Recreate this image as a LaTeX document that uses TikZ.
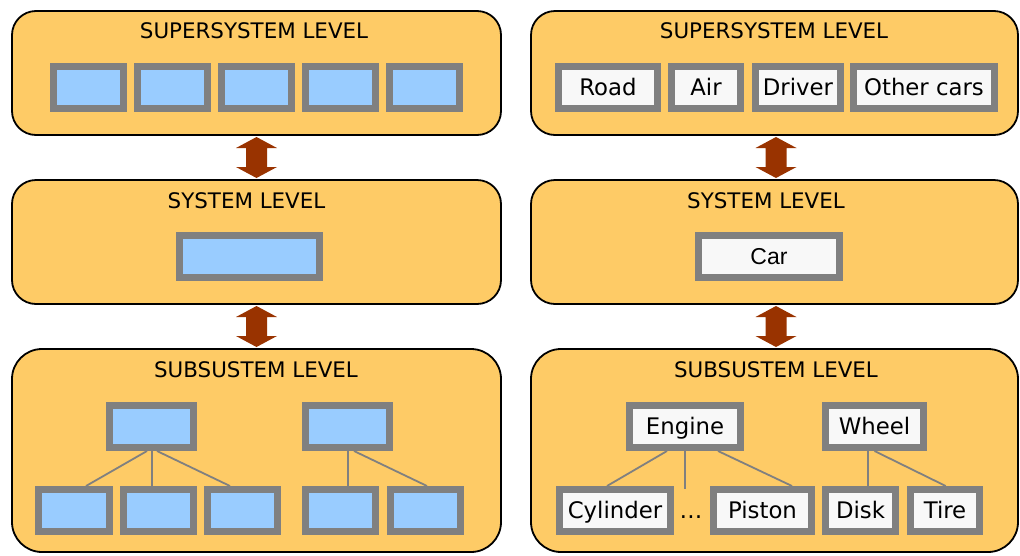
\documentclass[tikz,border=0pt]{standalone}
\usepackage{fontspec}
\setmainfont{DejaVu Sans}
\newfontfamily\arialf{Liberation Sans}
\usetikzlibrary{calc}
\definecolor{panelc}{RGB}{254,203,102}
\definecolor{boxgray}{RGB}{128,128,128}
\definecolor{boxblue}{RGB}{153,204,255}
\definecolor{boxwhite}{RGB}{248,248,248}
\definecolor{arrowc}{RGB}{153,51,0}
\tikzset{
  panel/.style={draw=black, line width=1.8pt, fill=panelc, rounded corners=24pt, inner sep=0pt},
  paneltitle/.style={inner sep=0pt, font=\fontsize{21.4}{24}\selectfont, text height=15.6pt, text depth=0pt},
  blk/.style={draw=boxgray, line width=7pt, inner sep=0pt, minimum height=42pt,
              font=\fontsize{22.8}{26}\selectfont, text height=16.6pt, text depth=0pt},
  bluebox/.style={blk, fill=boxblue},
  whitebox/.style={blk, fill=boxwhite},
  link/.style={draw=boxgray, line width=1.8pt},
  dblarrow/.style={fill=arrowc}
}
\newcommand{\vdarrow}[1]{%
  \fill[dblarrow] ($(#1)+(0,-20.5)$) -- ++(20.5,11) -- ++(-10,0) -- ++(0,19) -- ++(10,0)
    -- ++(-20.5,11) -- ++(-20.5,-11) -- ++(10,0) -- ++(0,-19) -- ++(-10,0) -- cycle;}
\begin{document}
\begin{tikzpicture}[x=1pt, y=-1pt]
\useasboundingbox (0,0) rectangle (1020,555);
% panels
\node[panel, minimum width=489pt, minimum height=124pt] (LA) at (256.5,73) {};
\node[panel, minimum width=489pt, minimum height=124pt] (LB) at (256.5,242) {};
\node[panel, rounded corners=30pt, minimum width=489pt, minimum height=203pt] (LC) at (256.5,450.5) {};
\node[panel, minimum width=487pt, minimum height=124pt] (RA) at (774.5,73) {};
\node[panel, minimum width=487pt, minimum height=124pt] (RB) at (774.5,242) {};
\node[panel, rounded corners=30pt, minimum width=487pt, minimum height=203pt] (RC) at (774.5,450.5) {};
% titles
\node[paneltitle] (tLA) at (254,31) {SUPERSYSTEM LEVEL};
\node[paneltitle] (tLB) at (246.5,200.5) {SYSTEM LEVEL};
\node[paneltitle] (tLC) at (256,370) {SUBSUSTEM LEVEL};
\node[paneltitle] (tRA) at (774,31) {SUPERSYSTEM LEVEL};
\node[paneltitle] (tRB) at (766,200.5) {SYSTEM LEVEL};
\node[paneltitle] (tRC) at (776,370) {SUBSUSTEM LEVEL};
% arrows between levels
\coordinate (aL1) at ($(LA.south)!0.5!(LB.north)$);
\coordinate (aL2) at ($(LB.south)!0.5!(LC.north)$);
\coordinate (aR1) at ($(RA.south)!0.5!(RB.north)+(1.5,0)$);
\coordinate (aR2) at ($(RB.south)!0.5!(RC.north)+(1.5,0)$);
\vdarrow{aL1}
\vdarrow{aL2}
\vdarrow{aR1}
\vdarrow{aR2}
% left supersystem boxes
\node[bluebox, minimum width=70pt] (s1) at (88.5,87.5) {};
\node[bluebox, minimum width=70pt] (s2) at (172.5,87.5) {};
\node[bluebox, minimum width=70pt] (s3) at (256.5,87.5) {};
\node[bluebox, minimum width=70pt] (s4) at (340.5,87.5) {};
\node[bluebox, minimum width=70pt] (s5) at (424.5,87.5) {};
% right supersystem boxes
\node[whitebox, minimum width=99pt] (road) at (608,87) {Road};
\node[whitebox, minimum width=69pt] (air) at (706,87) {Air};
\node[whitebox, minimum width=85pt] (driver) at (798,87) {Driver};
\node[whitebox, minimum width=141pt] (other) at (924,87) {Other cars};
% system boxes
\node[bluebox, minimum width=140pt] (sys) at (249.5,256.5) {};
\node[whitebox, minimum width=141pt, font=\arialf\fontsize{23}{26}\selectfont, text height=16.5pt] (car) at (769,256.5) {Car};
% left subsystem boxes
\node[bluebox, minimum width=84pt] (p1) at (151.5,426.5) {};
\node[bluebox, minimum width=84pt] (p2) at (347.5,426.5) {};
\node[bluebox, minimum width=71pt] (c1) at (74,510.5) {};
\node[bluebox, minimum width=70pt] (c2) at (158.5,510.5) {};
\node[bluebox, minimum width=70pt] (c3) at (242.5,510.5) {};
\node[bluebox, minimum width=70pt] (c4) at (340.5,510.5) {};
\node[bluebox, minimum width=70pt] (c5) at (425.5,510.5) {};
% right subsystem boxes
\node[whitebox, minimum width=111pt] (engine) at (685,426.5) {Engine};
\node[whitebox, minimum width=98pt] (wheel) at (874.5,426.5) {Wheel};
\node[whitebox, minimum width=111pt] (cyl) at (615,510.5) {Cylinder};
\node[whitebox, minimum width=98pt] (piston) at (762.5,510.5) {Piston};
\node[whitebox, minimum width=70pt] (disk) at (860.5,510.5) {Disk};
\node[whitebox, minimum width=69pt] (tire) at (945,510.5) {Tire};
\node[inner sep=0pt, font=\fontsize{22.8}{26}\selectfont, text height=16.6pt, text depth=0pt] (dots) at (691,510.5) {…};
\coordinate (dotsend) at (685,489);
% links
\draw[link] ([xshift=-4.5pt]p1.south) -- ([xshift=12pt]c1.north);
\draw[link] ([xshift=0.5pt]p1.south) -- ([xshift=-6.5pt]c2.north);
\draw[link] ([xshift=5.5pt]p1.south) -- ([xshift=-12.5pt]c3.north);
\draw[link] ([xshift=0.5pt]p2.south) -- ([xshift=7.5pt]c4.north);
\draw[link] ([xshift=6.5pt]p2.south) -- ([xshift=1.5pt]c5.north);
\draw[link] ([xshift=-18pt]engine.south) -- ([xshift=-8pt]cyl.north);
\draw[link] (engine.south) -- (dotsend);
\draw[link] ([xshift=33pt]engine.south) -- ([xshift=29.5pt]piston.north);
\draw[link] ([xshift=-6.5pt]wheel.south) -- ([xshift=7.5pt]disk.north);
\draw[link] (wheel.south) -- ([xshift=0.7pt]tire.north);
\end{tikzpicture}
\end{document}
